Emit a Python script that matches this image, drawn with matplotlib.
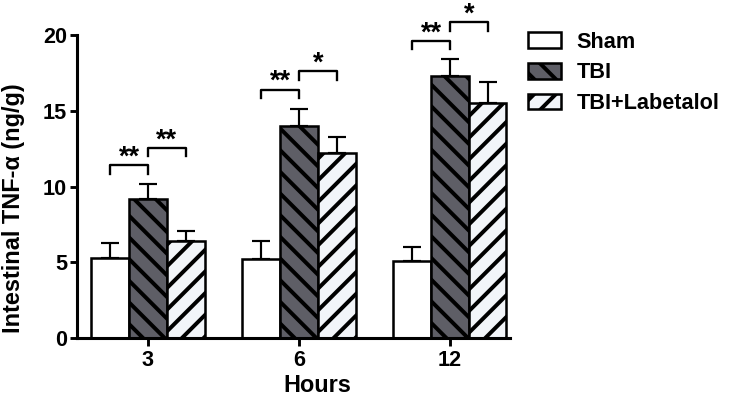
import numpy as np
import matplotlib.pyplot as plt
import matplotlib as mpl

# data
hours = ['3', '6', '12']
groups = ['Sham', 'TBI', 'TBI+Labetalol']
means = {
    'Sham': [5.3, 5.2, 5.1],
    'TBI': [9.2, 14.0, 17.3],
    'TBI+Labetalol': [6.4, 12.2, 15.5],
}
errs = {
    'Sham': [1.0, 1.2, 0.9],
    'TBI': [1.0, 1.1, 1.1],
    'TBI+Labetalol': [0.7, 1.1, 1.4],
}
# significance brackets: (hour index, left group, right group, height, label)
brackets = [
    (0, 0, 1, 11.4, '**'), (0, 1, 2, 12.55, '**'),
    (1, 0, 1, 16.4, '**'), (1, 1, 2, 17.6, '*'),
    (2, 0, 1, 19.6, '**'), (2, 1, 2, 20.85, '*'),
]

colors = ['white', '#5e5e66', '#f2f5f9']
hatches = [None, '\\\\', '//']

plt.rcParams['font.family'] = ['Liberation Sans', 'DejaVu Sans']
plt.rcParams['font.weight'] = 'bold'
plt.rcParams['hatch.linewidth'] = 2.2

dpi = 130
fig = plt.figure(figsize=(731 / dpi, 403 / dpi), dpi=dpi)
ax = fig.add_axes([0.1053, 0.161, 0.5927, 0.752])

x = np.arange(len(hours))
w = 0.25
offsets = [-w, 0, w]
for i, g in enumerate(groups):
    ax.bar(x + offsets[i], means[g], w, color=colors[i], edgecolor='black',
           linewidth=1.4, hatch=hatches[i], label=g, zorder=2)
    ax.errorbar(x + offsets[i], means[g], yerr=[np.zeros(3), errs[g]],
                fmt='none', ecolor='black', elinewidth=1.2, capsize=5,
                capthick=1.2, zorder=1)

for hi, a, b, h, lab in brackets:
    x0 = x[hi] + offsets[a]
    x1 = x[hi] + offsets[b]
    ax.plot([x0, x0, x1, x1], [h - 0.55, h, h, h - 0.55], color='black',
            lw=1.3, clip_on=False)
    ax.text((x0 + x1) / 2, h + 0.05, lab, ha='center', va='baseline',
            fontsize=15, fontweight='bold')

ax.set_xlim(-0.47, 2.40)
ax.set_ylim(0, 20)
ax.set_yticks([0, 5, 10, 15, 20])
ax.set_xticks(x)
ax.set_xticklabels(hours)
ax.tick_params(axis='both', width=1.6, length=4, labelsize=12, pad=1.5)
ax.tick_params(axis='x', length=4.5, pad=2)
for side in ['top', 'right']:
    ax.spines[side].set_visible(False)
for side in ['left', 'bottom']:
    ax.spines[side].set_linewidth(1.7)

ax.set_xlabel('Hours', fontsize=13, fontweight='bold')
ax.set_ylabel('Intestinal TNF-α (ng/g)', fontsize=13, fontweight='bold')
ax.xaxis.set_label_coords(0.555, -0.12)
ax.yaxis.set_label_coords(-0.12, 0.43)

fig.legend(loc='upper left', bbox_to_anchor=(0.695, 0.97), frameon=False,
           fontsize=12, handlelength=1.55, handleheight=0.75,
           labelspacing=0.45, handletextpad=0.7)

fig.savefig('out.png', dpi=dpi)
